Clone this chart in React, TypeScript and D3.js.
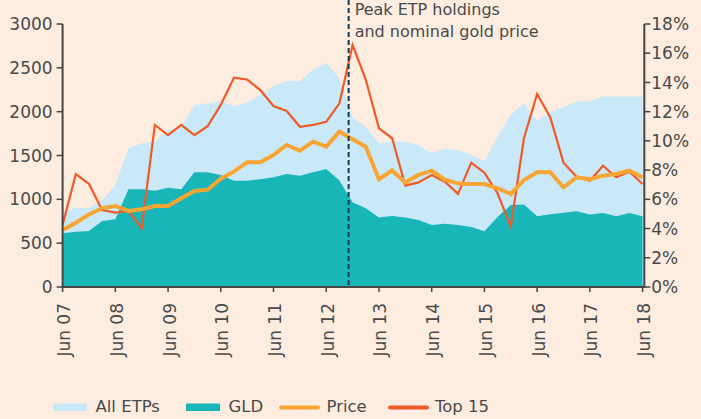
import React from "react";
import * as d3 from "d3";

// Quarterly observations, Jun 2007 .. Jun 2018 (45 quarters)
const allETPs = [
  855, 900, 900, 990, 1164, 1582, 1639, 1658, 1791, 1829, 2077, 2096,
  2115, 2065, 2103, 2191, 2293, 2350, 2350, 2476, 2558, 2381, 1935, 1829,
  1639, 1658, 1658, 1620, 1525, 1575, 1563, 1506, 1434, 1715, 1963, 2096,
  1898, 2000, 2050, 2115, 2115, 2172, 2172, 2172, 2172,
];
const gld = [
  613, 631, 639, 753, 772, 1115, 1115, 1099, 1133, 1115, 1309, 1309,
  1278, 1213, 1213, 1229, 1252, 1289, 1270, 1309, 1346, 1215, 967, 898,
  793, 810, 793, 764, 707, 722, 707, 685, 635, 798, 936, 940,
  806, 831, 848, 863, 827, 845, 806, 845, 806,
];
const price = [
  650, 734, 827, 898, 924, 867, 886, 924, 924, 1012, 1095, 1110,
  1235, 1316, 1422, 1422, 1506, 1620, 1555, 1658, 1601, 1772, 1685, 1601,
  1229, 1330, 1192, 1278, 1327, 1225, 1180, 1175, 1175, 1126, 1061, 1221,
  1309, 1309, 1138, 1252, 1229, 1270, 1289, 1327, 1252,
];
const top15 = [
  4.24, 7.73, 7.05, 5.27, 5.09, 5.2, 4.02, 11.09, 10.4, 11.09, 10.4, 11.0,
  12.46, 14.33, 14.2, 13.48, 12.39, 12.05, 10.97, 11.09, 11.3, 12.57, 16.56, 14.2,
  10.86, 10.18, 6.94, 7.16, 7.67, 7.21, 6.37, 8.51, 7.82, 6.41, 4.13, 10.18,
  13.21, 11.61, 8.51, 7.55, 7.28, 8.3, 7.51, 7.89, 7.05,
];
const xTickLabels = [
  "Jun 07", "Jun 08", "Jun 09", "Jun 10", "Jun 11", "Jun 12",
  "Jun 13", "Jun 14", "Jun 15", "Jun 16", "Jun 17", "Jun 18",
];
const leftTicks = [0, 500, 1000, 1500, 2000, 2500, 3000];
const rightTicks = [0, 2, 4, 6, 8, 10, 12, 14, 16, 18];
const peakQuarter = 21.7;
const annotationLines = ["Peak ETP holdings", "and nominal gold price"];
const legendItems = [
  { label: "All ETPs", kind: "area", key: "all" },
  { label: "GLD", kind: "area", key: "gld" },
  { label: "Price", kind: "line", key: "price" },
  { label: "Top 15", kind: "line", key: "top15" },
];

const W = 701;
const H = 419;
const BG = "#fdece0";
const COLORS: Record<string, string> = {
  all: "#c9e8f8",
  gld: "#18b5b9",
  price: "#f9a533",
  top15: "#f05a28",
};
const AXIS = "#454545";
const TEXT = "#4a4a4a";
const FONT = "DejaVu Sans, sans-serif";

export default function App() {
  const x = d3.scaleLinear().domain([0, 44.13]).range([62.6, 644.3]);
  const yL = d3.scaleLinear().domain([0, 3000]).range([287, 24]);
  const yR = d3.scaleLinear().domain([0, 18]).range([287, 24]);

  const areaGen = d3
    .area<number>()
    .x((_, i) => x(i))
    .y0(yL(0))
    .y1((d) => yL(d));
  const lineL = d3
    .line<number>()
    .x((_, i) => x(i))
    .y((d) => yL(d));
  const lineR = d3
    .line<number>()
    .x((_, i) => x(i))
    .y((d) => yR(d));

  const x0 = x.range()[0];
  const x1 = x.range()[1];
  const yBase = yL(0);
  const px = x(peakQuarter);

  return (
    <svg
      width={W}
      height={H}
      style={{ position: "absolute", left: 0, top: 0, display: "block" }}
      fontFamily={FONT}
    >
      <rect x={0} y={0} width={W} height={H} fill={BG} />
      <path d={areaGen(allETPs) || ""} fill={COLORS.all} />
      <path d={areaGen(gld) || ""} fill={COLORS.gld} />
      <path
        d={lineR(top15) || ""}
        fill="none"
        stroke={COLORS.top15}
        strokeWidth={2.2}
        strokeLinejoin="miter"
      />
      <path
        d={lineL(price) || ""}
        fill="none"
        stroke={COLORS.price}
        strokeWidth={4}
        strokeLinejoin="miter"
      />
      {/* peak marker */}
      <line
        x1={px}
        x2={px}
        y1={0}
        y2={yBase}
        stroke="#1b3650"
        strokeWidth={2}
        strokeDasharray="5,3"
      />
      {annotationLines.map((t, i) => (
        <text key={t} x={px + 6} y={15 + i * 21.5} fontSize={16} fill={TEXT}>
          {t}
        </text>
      ))}

      {/* left axis */}
      <line x1={x0} x2={x0} y1={yL(3000)} y2={yBase} stroke={AXIS} strokeWidth={2} />
      {leftTicks.map((t) => (
        <g key={"l" + t}>
          <line x1={x0 - 6} x2={x0} y1={yL(t)} y2={yL(t)} stroke={AXIS} strokeWidth={1.5} />
          <text
            x={x0 - 10}
            y={yL(t)}
            dy="0.36em"
            textAnchor="end"
            fontSize={17}
            fill={TEXT}
          >
            {t}
          </text>
        </g>
      ))}

      {/* right axis */}
      <line x1={x1} x2={x1} y1={yR(18)} y2={yBase} stroke={AXIS} strokeWidth={2} />
      {rightTicks.map((t) => (
        <g key={"r" + t}>
          <line x1={x1} x2={x1 + 6} y1={yR(t)} y2={yR(t)} stroke={AXIS} strokeWidth={1.5} />
          <text x={x1 + 7} y={yR(t)} dy="0.36em" textAnchor="start" fontSize={17} fill={TEXT}>
            {t + "%"}
          </text>
        </g>
      ))}

      {/* bottom axis */}
      <line x1={x0 - 1} x2={x1 + 1} y1={yBase} y2={yBase} stroke={AXIS} strokeWidth={2} />
      {xTickLabels.map((lab, i) => {
        const tx = x(i * 4);
        return (
          <g key={lab}>
            <line x1={tx} x2={tx} y1={yBase} y2={yBase + 5} stroke={AXIS} strokeWidth={1.5} />
            <text
              transform={`translate(${tx + 1.5},${yBase + 16}) rotate(-90)`}
              textAnchor="end"
              dy="0.35em"
              fontSize={17}
              fill={TEXT}
            >
              {lab}
            </text>
          </g>
        );
      })}

      {/* legend */}
      {legendItems.map((it, i) => {
        const lx = [53, 186, 281, 390][i];
        const tx = [95.5, 228.5, 326.5, 435][i];
        return (
          <g key={it.key}>
            {it.kind === "area" ? (
              <rect x={lx} y={403.5} width={34} height={7.5} fill={COLORS[it.key]} />
            ) : (
              <line
                x1={lx}
                x2={lx + 37}
                y1={407.5}
                y2={407.5}
                stroke={COLORS[it.key]}
                strokeWidth={3.8}
                strokeLinecap="round"
              />
            )}
            <text x={tx} y={412.3} fontSize={16.5} fill={TEXT}>
              {it.label}
            </text>
          </g>
        );
      })}
    </svg>
  );
}
